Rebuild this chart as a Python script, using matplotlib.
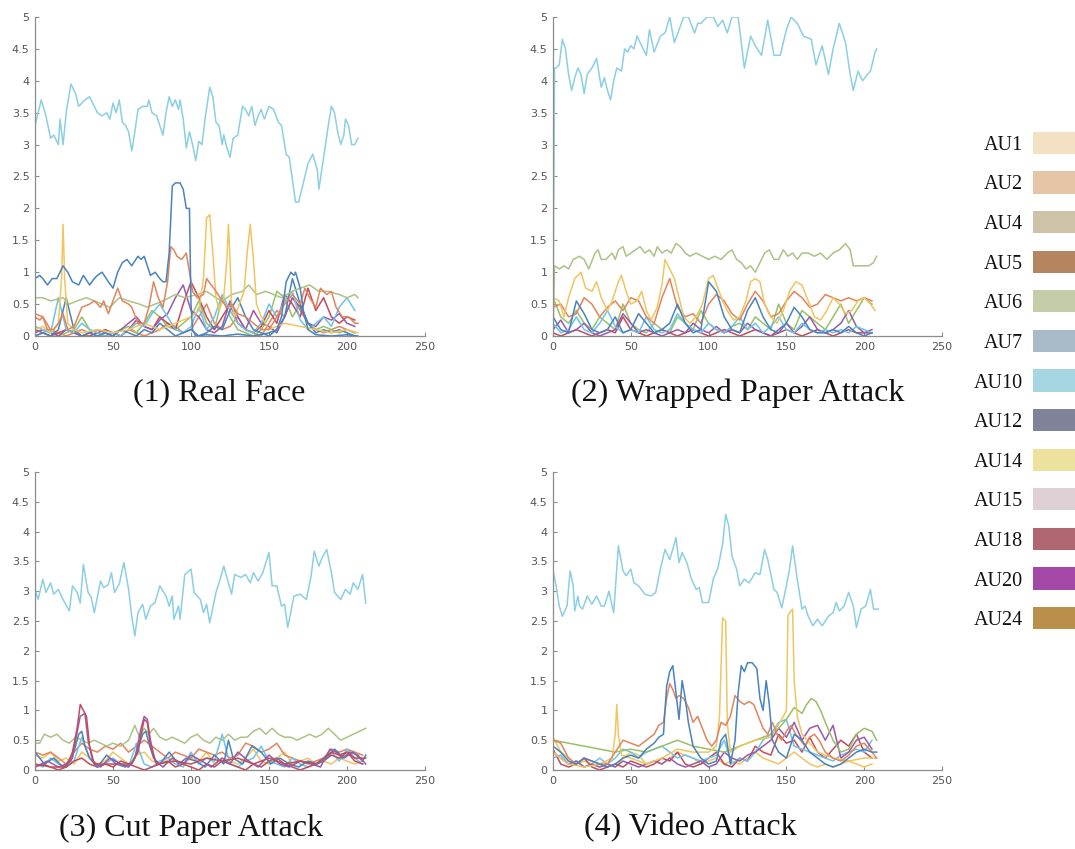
import matplotlib
matplotlib.use("Agg")
import matplotlib.pyplot as plt
from matplotlib.ticker import FormatStrFormatter

# ---- legend ----
AU_LABELS = ["AU1", "AU2", "AU4", "AU5", "AU6", "AU7", "AU10", "AU12",
             "AU14", "AU15", "AU18", "AU20", "AU24"]
AU_COLOURS = ["#f4e0c3", "#e6c4a6", "#cec3a8", "#b4855f", "#c4cda8", "#a9bbc8",
              "#a5d6e2", "#7f8299", "#ece29d", "#dfd0d6", "#b06670", "#a348a6",
              "#b98f4a"]

CAPTIONS = ["(1) Real Face", "(2) Wrapped Paper Attack",
            "(3) Cut Paper Attack", "(4) Video Attack"]

# frame grid used for the dense low-level curves
GRID = list(range(0, 210, 5))
GRID3 = list(range(0, 215, 5))

# ---- (1) real face ----
REAL_AU10_X = [0, 4, 7, 10, 12, 15, 16, 18, 20, 23, 26, 28, 32, 35, 38, 40, 43, 46, 48, 50,
               52, 54, 56, 58, 60, 62, 64, 66, 69, 72, 73, 75, 78, 80, 82, 84, 86, 88, 90, 92,
               93, 95, 97, 99, 101, 103, 105, 107, 109, 112, 114, 116, 118, 120, 121, 123, 125, 127, 130, 133,
               135, 137, 139, 141, 143, 145, 147, 150, 153, 156, 158, 161, 163, 165, 167, 169, 172, 175, 178, 181,
               182, 185, 188, 190, 192, 194, 196, 198, 199, 201, 203, 205, 207]
REAL_AU10_Y = [3.3, 3.7, 3.45, 3.1, 3.15, 3.0, 3.4, 3.0, 3.5, 3.95, 3.8, 3.6, 3.7, 3.75, 3.6, 3.5, 3.45, 3.5, 3.4, 3.65,
               3.5, 3.7, 3.35, 3.3, 3.2, 2.9, 3.2, 3.55, 3.6, 3.6, 3.7, 3.5, 3.45, 3.3, 3.15, 3.5, 3.75, 3.6, 3.7, 3.55,
               3.7, 3.4, 2.95, 3.2, 3.0, 2.75, 3.05, 3.0, 3.4, 3.9, 3.75, 3.35, 3.3, 3.0, 3.15, 2.95, 2.8, 3.1, 3.15, 3.6,
               3.55, 3.45, 3.6, 3.3, 3.45, 3.55, 3.4, 3.6, 3.55, 3.35, 3.3, 2.85, 2.8, 2.45, 2.1, 2.1, 2.4, 2.7, 2.85, 2.6,
               2.3, 2.8, 3.3, 3.6, 3.5, 3.2, 3.0, 3.15, 3.4, 3.3, 3.0, 3.0, 3.1]
REAL_BLUE_X = [0, 3, 5, 8, 11, 14, 18, 21, 24, 28, 31, 35, 38, 40, 43, 47, 50, 53, 56, 59,
               62, 66, 68, 70, 72, 74, 77, 80, 82, 84, 86, 88, 90, 93, 95, 97, 99, 100, 101, 103,
               110, 120, 130, 140, 150, 155, 158, 161, 164, 166, 167, 170, 172, 175, 180, 190, 200, 207]
REAL_BLUE_Y = [0.9, 0.95, 0.9, 0.8, 0.9, 0.9, 1.1, 1.0, 0.85, 0.8, 0.95, 0.8, 0.9, 0.95, 1.0, 0.85, 0.75, 1.0, 1.15, 1.2,
               1.1, 1.25, 1.2, 1.25, 1.1, 0.95, 1.0, 0.9, 0.85, 0.85, 1.3, 2.35, 2.4, 2.4, 2.3, 2.0, 2.0, 0.5, 0.1, 0.0,
               0.02, 0.0, 0.03, 0.0, 0.05, 0.1, 0.3, 0.85, 1.0, 0.95, 1.0, 0.75, 0.4, 0.1, 0.02, 0.0, 0.02, 0.0]
REAL_ORANGE_X = [0, 3, 5, 8, 12, 15, 18, 21, 25, 30, 35, 38, 42, 44, 47, 50, 53, 56, 60, 62,
                 66, 70, 73, 76, 79, 82, 85, 87, 89, 91, 94, 97, 99, 101, 104, 108, 110, 113, 116, 120,
                 123, 126, 130, 135, 140, 145, 150, 155, 160, 165, 170, 173, 176, 180, 183, 187, 190, 193, 197, 201,
                 205, 207]
REAL_ORANGE_Y = [0.3, 0.25, 0.3, 0.1, 0.1, 0.2, 0.35, 0.1, 0.15, 0.45, 0.5, 0.55, 0.45, 0.55, 0.35, 0.55, 0.75, 0.55, 0.5, 0.45,
                 0.2, 0.2, 0.45, 0.85, 0.6, 0.45, 0.85, 1.4, 1.35, 1.25, 1.2, 1.3, 1.0, 0.7, 0.6, 0.65, 0.9, 0.8, 0.7, 0.55,
                 0.45, 0.5, 0.35, 0.3, 0.2, 0.1, 0.1, 0.3, 0.5, 0.65, 0.5, 0.75, 0.6, 0.45, 0.75, 0.65, 0.7, 0.45, 0.3, 0.3,
                 0.2, 0.2]
REAL_GREEN_X = [0, 5, 10, 18, 22, 27, 33, 38, 43, 48, 54, 60, 67, 72, 77, 82, 90, 96, 104, 110,
                116, 120, 126, 133, 137, 142, 148, 153, 158, 165, 170, 176, 182, 188, 195, 200, 205, 207]
REAL_GREEN_Y = [0.6, 0.6, 0.55, 0.6, 0.5, 0.55, 0.6, 0.55, 0.5, 0.45, 0.6, 0.55, 0.5, 0.45, 0.5, 0.55, 0.65, 0.6, 0.65, 0.7,
                0.6, 0.55, 0.65, 0.7, 0.8, 0.65, 0.7, 0.65, 0.6, 0.7, 0.75, 0.8, 0.7, 0.7, 0.65, 0.6, 0.65, 0.6]
REAL_YELLOW_X = [0, 5, 10, 15, 17, 18, 19, 21, 25, 30, 40, 50, 60, 70, 80, 90, 100, 105, 108, 110,
                 112, 114, 116, 118, 121, 123, 124, 125, 126, 128, 131, 134, 136, 138, 140, 142, 145, 150, 160, 170,
                 180, 190, 200, 207]
REAL_YELLOW_Y = [0.1, 0.15, 0.05, 0.2, 0.9, 1.75, 0.9, 0.2, 0.1, 0.05, 0.1, 0.05, 0.1, 0.2, 0.1, 0.2, 0.3, 0.4, 0.9, 1.85,
                 1.9, 1.3, 0.6, 0.4, 0.6, 1.2, 1.75, 1.2, 0.5, 0.3, 0.5, 0.7, 1.3, 1.75, 1.2, 0.5, 0.3, 0.1, 0.2, 0.15,
                 0.1, 0.05, 0.1, 0.05]
REAL_LBLUE = [0.15, 0.1, 0.05, 0.6, 0.1, 0.05, 0.2,
              0.1, 0.05, 0.0, 0.05, 0.0, 0.1, 0.2,
              0.15, 0.35, 0.5, 0.3, 0.1, 0.05, 0.15,
              0.45, 0.1, 0.3, 0.65, 0.4, 0.2, 0.1,
              0.05, 0.2, 0.5, 0.3, 0.55, 0.7, 0.25,
              0.1, 0.2, 0.3, 0.15, 0.45, 0.6, 0.4]
REAL_PURPLE = [0.05, 0.1, 0.05, 0.0, 0.1, 0.05, 0.0,
               0.05, 0.1, 0.05, 0.0, 0.1, 0.2, 0.3,
               0.15, 0.1, 0.25, 0.35, 0.6, 0.8, 0.4,
               0.3, 0.1, 0.05, 0.15, 0.55, 0.3, 0.1,
               0.4, 0.2, 0.15, 0.05, 0.3, 0.6, 0.45,
               0.2, 0.15, 0.3, 0.25, 0.35, 0.2, 0.15]
REAL_DRED = [0.1, 0.05, 0.0, 0.05, 0.1, 0.05, 0.0,
             0.0, 0.05, 0.1, 0.05, 0.0, 0.1, 0.25,
             0.15, 0.1, 0.3, 0.2, 0.1, 0.5, 0.85,
             0.6, 0.3, 0.1, 0.3, 0.5, 0.2, 0.1,
             0.05, 0.15, 0.4, 0.2, 0.65, 0.5, 0.3,
             0.75, 0.4, 0.6, 0.3, 0.2, 0.3, 0.25]
REAL_GREEN2 = [0.0, 0.05, 0.1, 0.0, 0.05, 0.1, 0.3,
               0.1, 0.05, 0.0, 0.05, 0.1, 0.15, 0.05,
               0.2, 0.4, 0.3, 0.15, 0.1, 0.2, 0.3,
               0.55, 0.2, 0.1, 0.6, 0.3, 0.1, 0.05,
               0.0, 0.1, 0.3, 0.7, 0.6, 0.3, 0.5,
               0.2, 0.1, 0.15, 0.1, 0.05, 0.1, 0.05]
REAL_ORANGE2 = [0.35, 0.3, 0.1, 0.05, 0.0, 0.05, 0.1,
                0.05, 0.0, 0.0, 0.05, 0.0, 0.1, 0.05,
                0.0, 0.05, 0.1, 0.2, 0.15, 0.05, 0.1,
                0.3, 0.5, 0.2, 0.1, 0.15, 0.3, 0.1,
                0.05, 0.0, 0.2, 0.4, 0.3, 0.6, 0.4,
                0.2, 0.1, 0.05, 0.1, 0.15, 0.1, 0.05]
REAL_BLUE2 = [0.0, 0.05, 0.0, 0.1, 0.6, 0.1, 0.0,
              0.05, 0.0, 0.05, 0.0, 0.1, 0.05, 0.0,
              0.1, 0.05, 0.2, 0.1, 0.0, 0.05, 0.1,
              0.0, 0.05, 0.15, 0.1, 0.4, 0.6, 0.3,
              0.1, 0.05, 0.0, 0.1, 0.3, 0.9, 0.5,
              0.2, 0.05, 0.1, 0.05, 0.1, 0.05, 0.0]

# ---- (2) wrapped paper attack ----
WRAP_AU10_X = [0, 1, 2, 4, 6, 8, 10, 12, 14, 16, 18, 20, 22, 25, 28, 31, 33, 35, 37, 39,
               41, 44, 46, 48, 50, 52, 54, 57, 60, 62, 65, 69, 72, 75, 78, 81, 84, 87, 91, 93,
               95, 99, 103, 106, 109, 112, 115, 119, 123, 127, 130, 134, 138, 142, 146, 150, 153, 157, 161, 166,
               169, 173, 177, 180, 184, 188, 191, 193, 196, 199, 202, 204, 207, 208]
WRAP_AU10_Y = [0.0, 4.2, 4.2, 4.25, 4.65, 4.5, 4.1, 3.85, 4.05, 4.2, 4.1, 3.8, 4.1, 4.2, 4.35, 3.9, 4.05, 3.85, 3.7, 4.0,
               4.2, 4.15, 4.5, 4.45, 4.55, 4.5, 4.7, 4.55, 4.4, 4.8, 4.45, 4.7, 4.75, 5.0, 4.6, 4.8, 5.0, 5.0, 4.75, 4.9,
               4.9, 5.0, 5.0, 4.85, 4.95, 4.75, 5.0, 5.0, 4.2, 4.7, 4.55, 4.4, 4.95, 4.4, 4.4, 4.8, 5.0, 4.9, 4.7, 4.65,
               4.25, 4.55, 4.1, 4.5, 4.9, 4.6, 4.1, 3.85, 4.15, 4.0, 4.1, 4.15, 4.45, 4.5]
WRAP_GREEN_X = [0, 1, 4, 7, 10, 13, 17, 20, 23, 27, 29, 31, 34, 38, 40, 42, 45, 47, 50, 53,
                56, 59, 62, 65, 67, 70, 73, 76, 79, 82, 85, 88, 92, 96, 100, 104, 108, 112, 115, 118,
                121, 124, 127, 130, 133, 136, 139, 142, 145, 148, 151, 154, 157, 160, 164, 168, 172, 176, 180, 184,
                188, 191, 193, 196, 200, 203, 206, 208]
WRAP_GREEN_Y = [0.0, 1.1, 1.05, 1.1, 1.05, 1.2, 1.25, 1.2, 1.05, 1.3, 1.35, 1.2, 1.2, 1.3, 1.2, 1.35, 1.4, 1.25, 1.3, 1.35,
                1.4, 1.3, 1.35, 1.25, 1.4, 1.3, 1.35, 1.3, 1.45, 1.4, 1.3, 1.25, 1.3, 1.25, 1.2, 1.25, 1.2, 1.3, 1.35, 1.2,
                1.15, 1.05, 1.1, 1.0, 1.15, 1.3, 1.35, 1.2, 1.2, 1.35, 1.25, 1.3, 1.2, 1.3, 1.3, 1.25, 1.3, 1.2, 1.3, 1.35,
                1.45, 1.35, 1.1, 1.1, 1.1, 1.1, 1.15, 1.25]
WRAP_YELLOW_X = [0, 4, 7, 10, 14, 18, 21, 25, 28, 31, 35, 38, 42, 44, 47, 50, 54, 57, 60, 63,
                 67, 70, 72, 75, 78, 81, 84, 88, 92, 96, 100, 103, 106, 109, 112, 116, 120, 124, 127, 130,
                 133, 136, 140, 144, 148, 152, 156, 160, 164, 168, 172, 176, 180, 184, 188, 192, 196, 200, 204, 207]
WRAP_YELLOW_Y = [0.6, 0.55, 0.3, 0.6, 0.9, 1.0, 0.75, 0.7, 0.85, 0.6, 0.4, 0.55, 0.85, 0.95, 0.7, 0.5, 0.55, 0.7, 0.4, 0.25,
                 0.45, 0.8, 1.2, 1.05, 0.9, 0.6, 0.3, 0.2, 0.3, 0.5, 0.9, 0.95, 0.75, 0.55, 0.4, 0.25, 0.3, 0.55, 0.85, 0.9,
                 0.85, 0.5, 0.3, 0.2, 0.4, 0.7, 0.85, 0.8, 0.55, 0.3, 0.25, 0.4, 0.6, 0.5, 0.35, 0.4, 0.55, 0.6, 0.5, 0.4]
WRAP_ORANGE = [0.45, 0.5, 0.3, 0.35, 0.6, 0.5, 0.3,
               0.45, 0.55, 0.4, 0.6, 0.55, 0.3, 0.2,
               0.6, 0.9, 0.45, 0.3, 0.35, 0.2, 0.5,
               0.65, 0.55, 0.35, 0.25, 0.5, 0.7, 0.55,
               0.3, 0.35, 0.55, 0.7, 0.6, 0.45, 0.5,
               0.65, 0.6, 0.55, 0.6, 0.55, 0.6, 0.55]
WRAP_BLUE = [0.3, 0.1, 0.05, 0.55, 0.35, 0.1, 0.05,
             0.1, 0.3, 0.05, 0.1, 0.35, 0.2, 0.05,
             0.1, 0.2, 0.5, 0.2, 0.05, 0.1, 0.85,
             0.7, 0.3, 0.1, 0.05, 0.4, 0.6, 0.3,
             0.1, 0.05, 0.2, 0.45, 0.3, 0.1, 0.05,
             0.05, 0.1, 0.05, 0.15, 0.05, 0.0, 0.05]
WRAP_LBLUE = [0.2, 0.05, 0.1, 0.3, 0.1, 0.05, 0.2,
              0.4, 0.15, 0.05, 0.1, 0.05, 0.3, 0.1,
              0.05, 0.1, 0.35, 0.2, 0.1, 0.05, 0.2,
              0.1, 0.05, 0.15, 0.3, 0.1, 0.2, 0.05,
              0.15, 0.3, 0.1, 0.05, 0.2, 0.1, 0.05,
              0.1, 0.05, 0.1, 0.05, 0.15, 0.1, 0.05]
WRAP_PURPLE = [0.1, 0.25, 0.05, 0.1, 0.2, 0.05, 0.0,
               0.05, 0.1, 0.35, 0.2, 0.05, 0.1, 0.05,
               0.0, 0.05, 0.1, 0.05, 0.2, 0.1, 0.05,
               0.15, 0.05, 0.1, 0.05, 0.2, 0.1, 0.05,
               0.0, 0.1, 0.2, 0.05, 0.15, 0.3, 0.1,
               0.05, 0.1, 0.2, 0.4, 0.15, 0.05, 0.1]
WRAP_DRED = [0.05, 0.0, 0.05, 0.1, 0.05, 0.0, 0.05,
             0.1, 0.05, 0.3, 0.1, 0.05, 0.0, 0.05,
             0.1, 0.05, 0.0, 0.05, 0.1, 0.05, 0.0,
             0.05, 0.1, 0.05, 0.0, 0.05, 0.1, 0.05,
             0.0, 0.05, 0.1, 0.05, 0.0, 0.05, 0.1,
             0.05, 0.0, 0.05, 0.1, 0.05, 0.05, 0.05]
WRAP_GREEN2 = [0.6, 0.3, 0.2, 0.4, 0.2, 0.1, 0.3,
               0.2, 0.1, 0.5, 0.2, 0.1, 0.05, 0.2,
               0.1, 0.05, 0.3, 0.2, 0.1, 0.4, 0.2,
               0.1, 0.05, 0.15, 0.2, 0.1, 0.3, 0.2,
               0.1, 0.5, 0.2, 0.1, 0.4, 0.3, 0.2,
               0.1, 0.3, 0.5, 0.2, 0.4, 0.6, 0.5]

# ---- (3) cut paper attack ----
CUT_AU10_X = [0, 2, 5, 7, 10, 12, 15, 18, 22, 24, 27, 29, 31, 34, 36, 38, 42, 44, 47, 49,
              51, 54, 57, 60, 62, 64, 66, 69, 71, 74, 77, 80, 84, 86, 88, 89, 92, 93, 96, 100,
              102, 106, 108, 110, 112, 116, 118, 121, 124, 126, 128, 132, 135, 138, 140, 143, 146, 150, 152, 155,
              158, 160, 162, 166, 170, 174, 177, 179, 182, 184, 187, 190, 192, 196, 199, 202, 204, 207, 210, 212]
CUT_AU10_Y = [3.03, 2.86, 3.2, 2.98, 3.14, 2.95, 3.03, 2.86, 2.67, 3.09, 2.98, 2.8, 3.45, 2.98, 2.9, 2.64, 3.17, 3.06, 3.11, 3.31,
              2.98, 3.12, 3.48, 3.03, 2.58, 2.25, 2.64, 2.78, 2.53, 2.75, 2.81, 3.09, 2.92, 2.75, 2.92, 2.53, 2.75, 2.53, 3.28, 3.37,
              2.98, 2.86, 2.64, 2.78, 2.47, 2.98, 3.14, 3.42, 3.14, 2.95, 3.28, 3.23, 3.28, 3.14, 3.31, 3.17, 3.31, 3.65, 3.09, 3.09,
              2.75, 2.78, 2.39, 2.92, 2.95, 2.86, 3.26, 3.67, 3.42, 3.56, 3.7, 3.31, 2.98, 2.86, 3.03, 2.95, 3.14, 3.03, 3.28, 2.8]
CUT_GREEN_X = [0, 3, 6, 10, 14, 18, 22, 26, 30, 34, 38, 42, 46, 50, 55, 60, 64, 67, 70, 73,
               76, 80, 84, 88, 92, 96, 100, 104, 108, 112, 116, 120, 124, 128, 132, 136, 140, 144, 148, 152,
               156, 160, 164, 168, 172, 176, 180, 184, 188, 192, 196, 200, 204, 208, 212]
CUT_GREEN_Y = [0.45, 0.45, 0.6, 0.55, 0.6, 0.5, 0.45, 0.55, 0.5, 0.45, 0.5, 0.45, 0.4, 0.45, 0.4, 0.5, 0.75, 0.55, 0.7, 0.6,
               0.7, 0.55, 0.5, 0.55, 0.5, 0.45, 0.55, 0.6, 0.5, 0.45, 0.55, 0.5, 0.6, 0.5, 0.55, 0.55, 0.65, 0.7, 0.6, 0.7,
               0.6, 0.55, 0.55, 0.5, 0.55, 0.6, 0.55, 0.6, 0.7, 0.6, 0.5, 0.55, 0.6, 0.65, 0.7]
CUT_RED_X = [0, 10, 20, 24, 27, 29, 31, 33, 35, 38, 45, 55, 62, 66, 68, 70, 72, 74, 78, 90,
             100, 110, 120, 130, 140, 150, 160, 170, 180, 190, 195, 200, 205, 212]
CUT_RED_Y = [0.1, 0.05, 0.05, 0.3, 0.7, 1.1, 1.0, 0.9, 0.4, 0.1, 0.1, 0.1, 0.1, 0.3, 0.6, 0.85, 0.8, 0.4, 0.1, 0.15,
             0.1, 0.2, 0.15, 0.2, 0.1, 0.2, 0.1, 0.15, 0.1, 0.3, 0.25, 0.3, 0.2, 0.2]
CUT_PURPLE_X = [0, 8, 15, 20, 24, 26, 29, 32, 34, 37, 42, 48, 55, 60, 64, 66, 68, 70, 72, 74,
                77, 82, 88, 95, 100, 107, 113, 120, 125, 130, 137, 143, 150, 157, 163, 170, 177, 183, 189, 193,
                197, 202, 207, 212]
CUT_PURPLE_Y = [0.05, 0.15, 0.05, 0.1, 0.2, 0.5, 0.9, 0.95, 0.5, 0.15, 0.05, 0.2, 0.1, 0.05, 0.2, 0.45, 0.7, 0.9, 0.85, 0.5,
                0.15, 0.05, 0.2, 0.1, 0.25, 0.15, 0.05, 0.2, 0.1, 0.3, 0.15, 0.05, 0.25, 0.1, 0.05, 0.15, 0.1, 0.05, 0.35, 0.3,
                0.2, 0.3, 0.25, 0.1]
CUT_BLUE_X = [0, 6, 12, 18, 23, 26, 28, 30, 32, 35, 40, 46, 52, 58, 63, 66, 69, 71, 73, 76,
              80, 86, 92, 97, 103, 109, 115, 121, 124, 127, 133, 139, 145, 151, 157, 163, 169, 175, 181, 187,
              192, 198, 204, 210, 212]
CUT_BLUE_Y = [0.3, 0.1, 0.2, 0.05, 0.15, 0.4, 0.6, 0.65, 0.4, 0.2, 0.05, 0.25, 0.1, 0.05, 0.15, 0.35, 0.6, 0.65, 0.45, 0.2,
              0.1, 0.3, 0.1, 0.2, 0.15, 0.05, 0.25, 0.1, 0.5, 0.2, 0.1, 0.4, 0.3, 0.1, 0.2, 0.1, 0.05, 0.15, 0.1, 0.2,
              0.35, 0.2, 0.3, 0.15, 0.25]
CUT_ORANGE = [0.3, 0.25, 0.3, 0.2, 0.1, 0.3, 0.45,
              0.35, 0.3, 0.4, 0.35, 0.45, 0.3, 0.4,
              0.5, 0.4, 0.3, 0.2, 0.3, 0.25, 0.2,
              0.35, 0.3, 0.25, 0.3, 0.2, 0.25, 0.45,
              0.4, 0.3, 0.35, 0.45, 0.25, 0.2, 0.15,
              0.1, 0.15, 0.2, 0.35, 0.3, 0.35, 0.3,
              0.25]
CUT_YELLOW = [0.25, 0.2, 0.3, 0.15, 0.2, 0.1, 0.3,
              0.2, 0.1, 0.15, 0.3, 0.2, 0.1, 0.25,
              0.3, 0.15, 0.1, 0.2, 0.15, 0.1, 0.2,
              0.15, 0.3, 0.1, 0.2, 0.15, 0.1, 0.2,
              0.35, 0.15, 0.1, 0.2, 0.3, 0.1, 0.15,
              0.2, 0.1, 0.15, 0.1, 0.2, 0.15, 0.1,
              0.15]
CUT_LBLUE = [0.1, 0.05, 0.2, 0.1, 0.05, 0.15, 0.55,
             0.2, 0.05, 0.1, 0.2, 0.1, 0.05, 0.45,
             0.1, 0.05, 0.15, 0.2, 0.1, 0.05, 0.3,
             0.1, 0.2, 0.15, 0.6, 0.1, 0.05, 0.15,
             0.2, 0.4, 0.15, 0.1, 0.05, 0.2, 0.1,
             0.05, 0.1, 0.2, 0.3, 0.15, 0.35, 0.2,
             0.1]
CUT_DRED = [0.05, 0.1, 0.05, 0.0, 0.05, 0.15, 0.2,
            0.1, 0.05, 0.1, 0.05, 0.15, 0.1, 0.05,
            0.0, 0.05, 0.1, 0.15, 0.05, 0.1, 0.05,
            0.0, 0.1, 0.05, 0.15, 0.1, 0.05, 0.0,
            0.1, 0.05, 0.15, 0.2, 0.1, 0.05, 0.0,
            0.05, 0.1, 0.15, 0.25, 0.2, 0.3, 0.15,
            0.1]

# ---- (4) video attack ----
VIDEO_AU10_X = [0, 2, 4, 6, 9, 11, 13, 14, 16, 17, 19, 22, 25, 28, 31, 33, 36, 38, 39, 42,
                45, 47, 50, 52, 55, 59, 63, 66, 69, 72, 75, 78, 79, 81, 83, 86, 89, 92, 94, 96,
                100, 103, 106, 109, 111, 113, 115, 118, 120, 123, 126, 130, 133, 136, 138, 142, 144, 147, 150, 152,
                154, 157, 160, 162, 164, 167, 170, 173, 177, 180, 182, 184, 187, 190, 193, 195, 198, 201, 204, 206,
                209]
VIDEO_AU10_Y = [3.35, 3.09, 2.75, 2.58, 2.75, 3.34, 3.09, 2.67, 2.92, 2.75, 2.7, 2.92, 2.78, 2.92, 2.75, 2.75, 3.0, 2.75, 2.64, 3.76,
                3.34, 3.26, 3.37, 3.14, 3.09, 2.95, 2.92, 2.98, 3.37, 3.7, 3.53, 3.79, 3.9, 3.48, 3.65, 3.48, 3.2, 3.03, 3.06, 2.81,
                2.81, 3.2, 3.39, 3.79, 4.29, 4.09, 3.59, 3.37, 3.09, 3.2, 3.14, 3.31, 3.28, 3.7, 3.53, 3.03, 2.98, 2.72, 3.09, 3.37,
                3.76, 3.2, 2.7, 2.75, 2.58, 2.42, 2.53, 2.42, 2.58, 2.64, 2.81, 2.67, 2.75, 2.98, 2.75, 2.39, 2.7, 2.75, 3.03, 2.7,
                2.7]
VIDEO_BLUE_X = [0, 5, 10, 15, 20, 25, 30, 35, 40, 45, 50, 55, 60, 65, 68, 71, 73, 75, 77, 79,
                81, 83, 85, 87, 90, 95, 100, 105, 108, 111, 114, 117, 119, 121, 123, 125, 128, 131, 133, 135,
                137, 139, 141, 145, 150, 155, 160, 165, 170, 175, 180, 185, 190, 195, 200, 205, 208]
VIDEO_BLUE_Y = [0.4, 0.3, 0.15, 0.1, 0.2, 0.15, 0.1, 0.05, 0.1, 0.2, 0.25, 0.2, 0.35, 0.45, 0.55, 0.6, 1.4, 1.65, 1.75, 1.3,
                0.85, 1.5, 1.2, 0.8, 0.4, 0.2, 0.1, 0.15, 0.5, 0.6, 0.1, 0.5, 1.3, 1.75, 1.65, 1.8, 1.8, 1.7, 1.2, 1.0,
                1.5, 1.1, 0.5, 0.3, 0.2, 0.6, 0.5, 0.3, 0.2, 0.1, 0.05, 0.1, 0.2, 0.3, 0.35, 0.3, 0.3]
VIDEO_ORANGE_X = [0, 5, 10, 15, 20, 25, 30, 35, 40, 45, 50, 55, 60, 65, 68, 71, 73, 75, 77, 79,
                  81, 84, 87, 90, 93, 96, 99, 102, 105, 108, 111, 114, 117, 120, 123, 126, 129, 132, 135, 138,
                  141, 144, 147, 150, 153, 156, 159, 162, 165, 168, 171, 175, 180, 185, 190, 195, 200, 205, 208]
VIDEO_ORANGE_Y = [0.5, 0.45, 0.2, 0.1, 0.2, 0.15, 0.1, 0.1, 0.3, 0.5, 0.45, 0.4, 0.5, 0.6, 0.75, 0.8, 1.2, 1.45, 1.35, 1.2,
                  1.25, 1.2, 1.05, 0.8, 0.9, 0.7, 0.5, 0.4, 0.5, 0.8, 0.75, 0.9, 1.25, 1.15, 1.1, 1.15, 1.1, 0.9, 0.7, 0.6,
                  0.8, 0.6, 0.5, 0.65, 0.75, 0.6, 0.5, 0.4, 0.55, 0.6, 0.5, 0.3, 0.2, 0.15, 0.25, 0.4, 0.45, 0.3, 0.2]
VIDEO_YELLOW_X = [0, 10, 20, 30, 38, 40, 41, 42, 44, 50, 60, 70, 80, 90, 100, 105, 107, 109, 111, 112,
                  114, 120, 130, 140, 148, 150, 151, 154, 155, 157, 160, 170, 180, 190, 200, 208]
VIDEO_YELLOW_Y = [0.3, 0.1, 0.05, 0.1, 0.2, 0.6, 1.1, 0.6, 0.25, 0.2, 0.1, 0.2, 0.35, 0.3, 0.3, 0.4, 0.9, 2.55, 2.5, 0.8,
                  0.3, 0.4, 0.5, 0.55, 0.9, 1.0, 2.6, 2.7, 1.5, 0.9, 0.6, 0.3, 0.2, 0.15, 0.2, 0.2]
VIDEO_GREEN_X = [0, 10, 20, 30, 40, 50, 60, 70, 80, 85, 90, 100, 110, 120, 130, 140, 145, 150, 155, 160,
                 163, 166, 169, 172, 175, 180, 185, 190, 195, 200, 205, 208]
VIDEO_GREEN_Y = [0.5, 0.45, 0.4, 0.35, 0.3, 0.35, 0.3, 0.4, 0.5, 0.45, 0.4, 0.35, 0.3, 0.4, 0.5, 0.6, 0.7, 0.85, 1.05, 0.95,
                 1.1, 1.2, 1.15, 1.0, 0.8, 0.5, 0.3, 0.35, 0.6, 0.7, 0.65, 0.5]
VIDEO_PURPLE = [0.3, 0.2, 0.1, 0.15, 0.05, 0.1, 0.05,
                0.1, 0.05, 0.15, 0.1, 0.05, 0.1, 0.15,
                0.1, 0.2, 0.1, 0.05, 0.1, 0.15, 0.05,
                0.1, 0.3, 0.2, 0.15, 0.25, 0.3, 0.4,
                0.5, 0.7, 0.55, 0.8, 0.5, 0.7, 0.75,
                0.5, 0.75, 0.2, 0.3, 0.5, 0.55, 0.35]
VIDEO_LBLUE = [0.2, 0.25, 0.1, 0.15, 0.05, 0.1, 0.2,
               0.1, 0.2, 0.35, 0.3, 0.2, 0.3, 0.35,
               0.4, 0.3, 0.2, 0.25, 0.2, 0.15, 0.2,
               0.25, 0.5, 0.1, 0.2, 0.15, 0.3, 0.5,
               0.6, 0.8, 0.85, 0.4, 0.35, 0.3, 0.25,
               0.2, 0.15, 0.25, 0.3, 0.35, 0.3, 0.5]
VIDEO_DRED = [0.35, 0.1, 0.05, 0.1, 0.2, 0.05, 0.0,
              0.05, 0.1, 0.05, 0.15, 0.1, 0.05, 0.1,
              0.2, 0.15, 0.3, 0.1, 0.05, 0.1, 0.2,
              0.3, 0.1, 0.05, 0.2, 0.15, 0.4, 0.3,
              0.25, 0.6, 0.45, 0.5, 0.3, 0.55, 0.3,
              0.2, 0.35, 0.5, 0.4, 0.6, 0.3, 0.2]
VIDEO_ORANGE2 = [0.55, 0.3, 0.2, 0.1, 0.15, 0.1, 0.05,
                 0.1, 0.05, 0.2, 0.3, 0.25, 0.1, 0.15,
                 0.1, 0.2, 0.3, 0.25, 0.2, 0.1, 0.15,
                 0.2, 0.1, 0.15, 0.1, 0.2, 0.3, 0.2,
                 0.15, 0.1, 0.2, 0.3, 0.2, 0.1, 0.05,
                 0.1, 0.05, 0.1, 0.15, 0.1, 0.05, 0.1]

# washed-out matlab line colours
BLUE = "#4a83bd"
ORANGE = "#e2845e"
YELLOW = "#f0c560"
PURPLE = "#9a5aa8"
GREEN = "#98c068"
LBLUE = "#6cc4ec"
DRED = "#c04c5c"
OLIVE = "#abc384"
CYAN = "#8ccfe3"

PANELS = [
    [(GRID, REAL_ORANGE2, ORANGE), (GRID, REAL_GREEN2, GREEN), (GRID, REAL_DRED, DRED),
     (GRID, REAL_PURPLE, PURPLE), (GRID, REAL_LBLUE, LBLUE), (GRID, REAL_BLUE2, BLUE),
     (REAL_GREEN_X, REAL_GREEN_Y, OLIVE), (REAL_YELLOW_X, REAL_YELLOW_Y, YELLOW),
     (REAL_ORANGE_X, REAL_ORANGE_Y, ORANGE), (REAL_BLUE_X, REAL_BLUE_Y, BLUE),
     (REAL_AU10_X, REAL_AU10_Y, CYAN)],
    [(GRID, WRAP_GREEN2, GREEN), (GRID, WRAP_DRED, DRED), (GRID, WRAP_PURPLE, PURPLE),
     (GRID, WRAP_LBLUE, LBLUE), (GRID, WRAP_ORANGE, ORANGE), (WRAP_YELLOW_X, WRAP_YELLOW_Y, YELLOW),
     (GRID, WRAP_BLUE, BLUE), (WRAP_GREEN_X, WRAP_GREEN_Y, OLIVE),
     (WRAP_AU10_X, WRAP_AU10_Y, CYAN)],
    [(GRID3, CUT_YELLOW, YELLOW), (GRID3, CUT_ORANGE, ORANGE), (GRID3, CUT_LBLUE, LBLUE),
     (GRID3, CUT_DRED, DRED), (CUT_GREEN_X, CUT_GREEN_Y, OLIVE), (CUT_BLUE_X, CUT_BLUE_Y, BLUE),
     (CUT_PURPLE_X, CUT_PURPLE_Y, PURPLE), (CUT_RED_X, CUT_RED_Y, DRED),
     (CUT_AU10_X, CUT_AU10_Y, CYAN)],
    [(GRID, VIDEO_ORANGE2, YELLOW), (GRID, VIDEO_DRED, DRED), (GRID, VIDEO_LBLUE, LBLUE),
     (GRID, VIDEO_PURPLE, PURPLE), (VIDEO_GREEN_X, VIDEO_GREEN_Y, GREEN),
     (VIDEO_YELLOW_X, VIDEO_YELLOW_Y, YELLOW), (VIDEO_ORANGE_X, VIDEO_ORANGE_Y, ORANGE),
     (VIDEO_BLUE_X, VIDEO_BLUE_Y, BLUE), (VIDEO_AU10_X, VIDEO_AU10_Y, CYAN)],
]

W, H = 1075, 849
fig = plt.figure(figsize=(W / 100, H / 100), dpi=100)

# axes boxes in pixels: left, top(y=5), right(x=250), bottom(y=0)
BOXES = [(35, 17, 425, 336), (553, 17, 942, 336),
         (35, 472, 425, 770), (553, 472, 942, 770)]
CAP_POS = [(219, 393), (738, 393), (191, 828), (690, 828)]

for box, series, caption, cap in zip(BOXES, PANELS, CAPTIONS, CAP_POS):
    l, t, r, b = box
    ax = fig.add_axes([l / W, 1 - b / H, (r - l) / W, (b - t) / H])
    for xs, ys, col in series:
        ax.plot(xs, ys, color=col, lw=1.1)
    ax.set_xlim(0, 250)
    ax.set_ylim(0, 5)
    ax.set_xticks([0, 50, 100, 150, 200, 250])
    ax.set_yticks([0, 0.5, 1, 1.5, 2, 2.5, 3, 3.5, 4, 4.5, 5])
    ax.yaxis.set_major_formatter(FormatStrFormatter("%g"))
    for side in ("top", "right"):
        ax.spines[side].set_visible(False)
    for side in ("left", "bottom"):
        ax.spines[side].set_color("#8c8c8c")
        ax.spines[side].set_linewidth(0.9)
    ax.tick_params(direction="in", length=3, width=0.8, color="#8c8c8c",
                   labelsize=8, labelcolor="#555555", pad=4)
    fig.text(cap[0] / W, 1 - cap[1] / H, caption, ha="center", va="center",
             fontsize=23, family="Liberation Serif", color="#111111")

# legend column
leg = fig.add_axes([1033 / W, 1 - 638 / H, 42 / W, 515 / H])
leg.barh(range(len(AU_LABELS)), [1] * len(AU_LABELS), height=0.56, color=AU_COLOURS)
leg.set_xlim(0, 1)
leg.set_ylim(len(AU_LABELS) - 0.5, -0.5)
leg.set_yticks(range(len(AU_LABELS)), AU_LABELS)
leg.set_xticks([])
for s in leg.spines.values():
    s.set_visible(False)
leg.tick_params(axis="y", length=0, pad=7, labelsize=14.5)
for lab in leg.get_yticklabels():
    lab.set_family("Liberation Serif")
    lab.set_color("#111111")

fig.savefig("out.png", dpi=100)
